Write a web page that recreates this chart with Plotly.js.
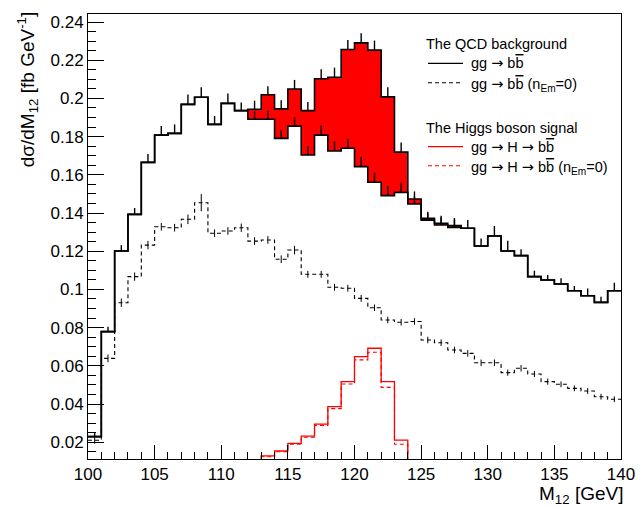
<!DOCTYPE html>
<html>
<head>
<meta charset="utf-8">
<script src="https://cdn.plot.ly/plotly-3.0.1.min.js"></script>
<style>html,body{margin:0;padding:0;background:#fff;}#chart{width:644px;height:507px;}</style>
</head>
<body>
<div id="chart"></div>
<script>
// Bin low edges (GeV), bin width 1 GeV
const binLow = [100,101,102,103,104,105,106,107,108,109,110,111,112,113,114,115,116,117,118,119,
                120,121,122,123,124,125,126,127,128,129,130,131,132,133,134,135,136,137,138,139];
const binHighEnd = 140;

// QCD background gg -> bb (solid)
const qcdBkg = [0.0229,0.0779,0.1201,0.1393,0.1665,0.1808,0.1817,0.1969,0.2006,0.1864,
                0.1974,0.1936,0.1891,0.1891,0.1791,0.1855,0.1704,0.1808,0.1725,0.1739,
                0.1643,0.1561,0.1491,0.1508,0.1447,0.1363,0.1337,0.1325,0.1320,0.1227,
                0.1280,0.1201,0.1177,0.1067,0.1049,0.1028,0.0993,0.0967,0.0932,0.0993];
const qcdBkgErr = [0.0020,0.0026,0.0031,0.0033,0.0044,0.0047,0.0047,0.0052,0.0052,0.0044,
                   0.0052,0.0042,0.0045,0.0045,0.0045,0.0048,0.0045,0.0050,0.0050,0.0050,
                   0.0050,0.0050,0.0050,0.0050,0.0040,0.0035,0.0040,0.0040,0.0044,0.0040,
                   0.0052,0.0054,0.0033,0.0031,0.0026,0.0030,0.0025,0.0038,0.0030,0.0042];

// QCD background gg -> bb (n_Em = 0) (dashed)
const qcdBkgNoEm = [0.0210,0.0639,0.0930,0.1067,0.1232,0.1328,0.1323,0.1367,0.1454,0.1294,
                    0.1306,0.1323,0.1253,0.1259,0.1158,0.1206,0.1079,0.1079,0.1011,0.1006,
                    0.0953,0.0904,0.0840,0.0828,0.0832,0.0735,0.0721,0.0683,0.0665,0.0616,
                    0.0616,0.0564,0.0587,0.0557,0.0517,0.0503,0.0482,0.0468,0.0438,0.0425];
const qcdBkgNoEmErr = [0.0018,0.0020,0.0022,0.0022,0.0022,0.0020,0.0020,0.0025,0.0045,0.0020,
                       0.0020,0.0022,0.0020,0.0020,0.0020,0.0022,0.0018,0.0018,0.0018,0.0018,
                       0.0018,0.0017,0.0017,0.0017,0.0017,0.0017,0.0017,0.0017,0.0017,0.0017,
                       0.0017,0.0016,0.0017,0.0016,0.0016,0.0015,0.0015,0.0015,0.0015,0.0015];

// Higgs signal gg -> H -> bb (solid red) and (n_Em = 0) (dashed red)
const higgsSig = [0,0,0,0,0,0,0,0,0,0,
                  0,0,0.0052,0.0128,0.0154,0.0194,0.0232,0.0295,0.0386,0.0517,
                  0.0648,0.0692,0.0517,0.0211,0.0026,0.0009,0.0009,0.0009,0,0,
                  0,0,0,0,0,0,0,0,0,0];
const higgsSigNoEm = [0,0,0,0,0,0,0,0,0,0,
                      0,0,0.0050,0.0124,0.0150,0.0189,0.0226,0.0288,0.0376,0.0505,
                      0.0631,0.0671,0.0487,0.0189,0.0024,0.0008,0.0008,0.0008,0,0,
                      0,0,0,0,0,0,0,0,0,0];

const ARW = "<span style='font-family:DejaVu Sans'>\u2192</span>";
const BBAR = "b<span style='text-decoration:overline'>b</span>";
const legendTitles = ['The QCD background', 'The Higgs boson signal'];
const legendLabels = [
  'gg ' + ARW + ' ' + BBAR,
  'gg ' + ARW + ' ' + BBAR + ' (n<sub>Em</sub>=0)',
  'gg ' + ARW + ' H ' + ARW + ' ' + BBAR,
  'gg ' + ARW + ' H ' + ARW + ' ' + BBAR + ' (n<sub>Em</sub>=0)'
];

function stepX(){ return binLow.concat([binHighEnd]); }
function stepY(v){ return v.concat([v[v.length-1]]); }
const centers = binLow.map(b => b + 0.5);
const total = qcdBkg.map((v,i) => v + higgsSig[i]);

const sigIdx = higgsSig.map((s,i)=> s>0 ? i : -1).filter(i=>i>=0);
const i0 = sigIdx[0], i1 = sigIdx[sigIdx.length-1];
const fillX = binLow.slice(i0, i1+1).concat([binLow[i1]+1]);
const fillLow = qcdBkg.slice(i0, i1+1); fillLow.push(fillLow[fillLow.length-1]);
const fillHigh = total.slice(i0, i1+1); fillHigh.push(fillHigh[fillHigh.length-1]);

const F = 'Liberation Sans, Arial, Helvetica, sans-serif';
const DASH = '4px,3px';

const traces = [
  {x: fillX, y: fillLow, mode:'lines', line:{shape:'hv', width:0, color:'rgba(0,0,0,0)'}, hoverinfo:'skip'},
  {x: fillX, y: fillHigh, mode:'lines', line:{shape:'hv', width:0, color:'rgba(0,0,0,0)'}, fill:'tonexty', fillcolor:'#ff0000', hoverinfo:'skip'},
  {x: stepX(), y: stepY(qcdBkg), mode:'lines', line:{shape:'hv', width:1.6, color:'#000'}, hoverinfo:'skip'},
  {x: centers, y: qcdBkg, mode:'markers', marker:{size:1, color:'rgba(0,0,0,0)'},
   error_y:{type:'data', symmetric:false, array:qcdBkgErr, arrayminus:qcdBkg.map(()=>0), width:0, thickness:1.4, color:'#000'}, hoverinfo:'skip'},
  {x: stepX(), y: stepY(total), mode:'lines', line:{shape:'hv', width:1.6, color:'#000'}, name:'gg→bb'},
  {x: centers.slice(i0, i1+1), y: total.slice(i0, i1+1), mode:'markers', marker:{size:1, color:'rgba(0,0,0,0)'},
   error_y:{type:'data', symmetric:false, array:qcdBkgErr.slice(i0,i1+1), arrayminus:qcdBkgErr.slice(i0,i1+1).map(()=>0), width:0, thickness:1.4, color:'#000'}, hoverinfo:'skip'},
  {x: stepX(), y: stepY(qcdBkgNoEm), mode:'lines', line:{shape:'hv', width:1.1, color:'#000', dash:DASH}, name:'gg→bb (nEm=0)'},
  {x: centers, y: qcdBkgNoEm, mode:'markers', marker:{size:1, color:'rgba(0,0,0,0)'},
   error_y:{type:'data', array:qcdBkgNoEmErr, width:0, thickness:1, color:'#000'}, hoverinfo:'skip'},
  {x: stepX(), y: stepY(higgsSig), mode:'lines', line:{shape:'hv', width:1.3, color:'#ff0000'}, name:'gg→H→bb'},
  {x: stepX(), y: stepY(higgsSigNoEm), mode:'lines', line:{shape:'hv', width:1.1, color:'#ff0000', dash:DASH}, name:'gg→H→bb (nEm=0)'}
];

// plot area in pixels: x 88..621, y 14..459
const PX = x => (x - 88) / 533;
const PY = y => (459 - y) / 445;

const legendRowsY = [63.3, 82.7, 146.7, 165.7];
const legendTitleY = [44, 127.7];
const legendStyles = [
  {color:'#000', width:1.3, dash:'solid'},
  {color:'#000', width:1.1, dash:DASH},
  {color:'#ff0000', width:1.3, dash:'solid'},
  {color:'#ff0000', width:1.1, dash:DASH}
];

const shapes = legendRowsY.map((y,i) => ({
  type:'line', xref:'paper', yref:'paper', x0:PX(428), x1:PX(463), y0:PY(y), y1:PY(y),
  line: legendStyles[i]
}));

const annotations = [
  {text:'M<sub>12</sub> [GeV]', xref:'paper', yref:'paper', x:1.008, y:-0.08, xanchor:'right', yanchor:'middle',
   showarrow:false, font:{family:F, size:19, color:'#000'}},
  {text:'d\u03c3/dM<sub>12</sub> [fb GeV<sup>-1</sup>]', xref:'paper', yref:'paper', x:-0.113, y:1.01, xanchor:'center', yanchor:'top',
   textangle:-90, showarrow:false, font:{family:F, size:19, color:'#000'}}
];
legendTitles.forEach((t,i) => annotations.push({
  text:t, xref:'paper', yref:'paper', x:PX(424), y:PY(legendTitleY[i]), xanchor:'left', yanchor:'middle',
  showarrow:false, font:{family:F, size:14.5, color:'#000'}
}));
legendLabels.forEach((t,i) => annotations.push({
  text:t, xref:'paper', yref:'paper', x:PX(469), y:PY(legendRowsY[i] + (i % 2 === 1 ? 2 : 0)), xanchor:'left', yanchor:'middle',
  showarrow:false, font:{family:F, size:14.5, color:'#000'}
}));

const layout = {
  width: 644, height: 507,
  margin: {l: 88, r: 23, t: 14, b: 48},
  paper_bgcolor: '#fff', plot_bgcolor: '#fff',
  font: {family: F, size: 17, color: '#000'},
  showlegend: false,
  xaxis: {range:[100,140], tick0:100, dtick:5, ticks:'inside', ticklen:14, tickwidth:1, tickcolor:'#000',
          minor:{ticks:'inside', dtick:1, ticklen:7, tickwidth:1, tickcolor:'#000'},
          showline:true, mirror:true, linecolor:'#000', linewidth:1, showgrid:false, zeroline:false,
          tickfont:{family:F, size:17, color:'#000'}},
  yaxis: {range:[0.0112,0.2442], tick0:0, dtick:0.02, ticks:'inside', ticklen:16, tickwidth:1, tickcolor:'#000',
          minor:{ticks:'inside', dtick:0.005, ticklen:8, tickwidth:1, tickcolor:'#000'},
          showline:true, mirror:true, linecolor:'#000', linewidth:1, showgrid:false, zeroline:false,
          tickfont:{family:F, size:17, color:'#000'}},
  shapes: shapes,
  annotations: annotations
};

Plotly.newPlot('chart', traces, layout, {displayModeBar:false, staticPlot:true});
</script>
</body>
</html>
